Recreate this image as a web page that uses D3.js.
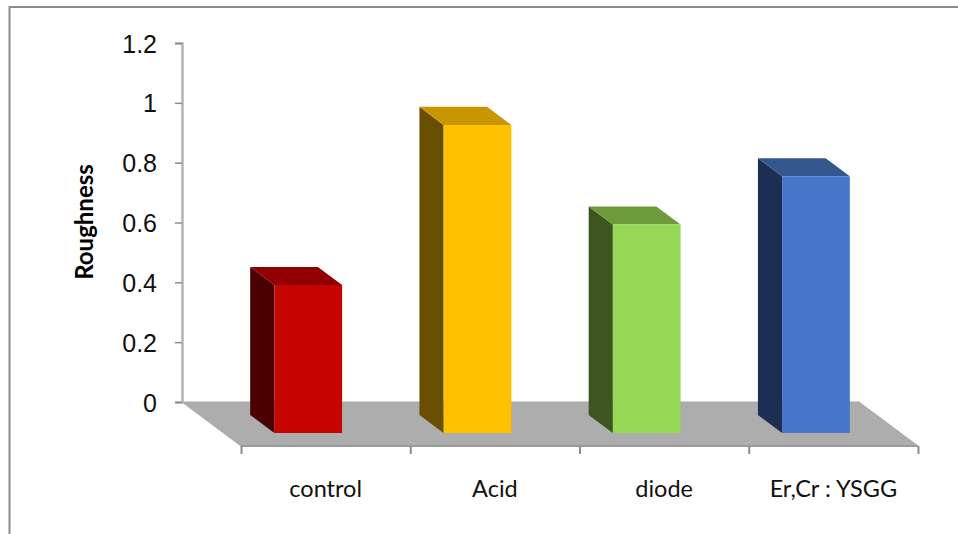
<!DOCTYPE html>
<html>
<head>
<meta charset="utf-8">
<script src="https://cdn.jsdelivr.net/npm/d3@7"></script>
<style>
  html, body { margin: 0; padding: 0; background: #fff; }
  svg { display: block; }
  .y-axis text { font-family: "Liberation Sans", Arial, sans-serif; font-size: 25px; fill: #111; }
  .cat-label { font-family: Lato, sans-serif; font-size: 23.5px; fill: #111; text-anchor: middle; }
  .y-title { font-family: Lato, sans-serif; font-size: 24px; font-weight: bold; fill: #000; text-anchor: middle; }
</style>
</head>
<body>
<div id="chart"></div>
<script>
var categories = ["control", "Acid", "diode", "Er,Cr : YSGG"];
var values = [0.495, 1.03, 0.697, 0.858];
var yTicks = [0, 0.2, 0.4, 0.6, 0.8, 1, 1.2];
var frontColors = ["#c60500", "#ffc000", "#97d756", "#4775ca"];
var topColors = ["#900000", "#c79600", "#6e9c3c", "#34568f"];
var sideColors = ["#4a0000", "#674e00", "#3e551f", "#1c2f52"];

var width = 958,
  height = 534;

// floor runs from the back wall to the front edge, this is the shift for full depth
var depthX = 59,
  depthY = 44;
var barBack = 0.295,
  barFront = 0.705;

var svg = d3
  .select("#chart")
  .append("svg")
  .attr("width", width)
  .attr("height", height);

var x = d3
  .scaleBand()
  .domain(categories)
  .range([182, 859])
  .paddingInner(0.6)
  .paddingOuter(0.3);

var y = d3.scaleLinear().domain([0, 1.2]).range([402, 43]);

// outer chart frame, only top and left are visible
svg
  .append("path")
  .attr("d", "M" + width + ",7H9.5V" + height)
  .attr("fill", "none")
  .attr("stroke", "#8c8c8c")
  .attr("stroke-width", 2);

// floor
var floorLeft = x.range()[0],
  floorRight = x.range()[1];
svg
  .append("path")
  .attr(
    "d",
    d3.line()([
      [floorLeft, y(0)],
      [floorRight, y(0)],
      [floorRight + depthX, y(0) + depthY],
      [floorLeft + depthX, y(0) + depthY]
    ]) + "Z"
  )
  .attr("fill", "#adadad")
  .attr("stroke", "#a8a8a8")
  .attr("stroke-width", 1);

var yAxis = d3
  .axisLeft(y)
  .tickValues(yTicks)
  .tickFormat(function(d) {
    return d;
  })
  .tickSize(7)
  .tickPadding(18);

var yAxisG = svg
  .append("g")
  .attr("class", "y-axis")
  .attr("transform", "translate(182,0)")
  .call(yAxis);

yAxisG.select(".domain").attr("stroke", "#b4b4b4").attr("stroke-width", 2.5);
yAxisG.selectAll(".tick line").attr("stroke", "#8c8c8c").attr("stroke-width", 1.5);
yAxisG.selectAll(".tick text").attr("dy", "0.36em");

// front edge of the floor with its category ticks
var xFront = d3
  .scaleLinear()
  .domain([0, categories.length])
  .range([floorLeft + depthX, floorRight + depthX]);

var xAxis = d3
  .axisBottom(xFront)
  .ticks(categories.length)
  .tickFormat("")
  .tickSize(8);

var xAxisG = svg
  .append("g")
  .attr("class", "x-axis")
  .attr("transform", "translate(0," + (y(0) + depthY) + ")")
  .call(xAxis);

xAxisG
  .select(".domain")
  .attr("d", "M" + xFront.range()[0] + ",0H" + xFront.range()[1])
  .attr("stroke", "#9a9a9a")
  .attr("stroke-width", 2);
xAxisG.selectAll(".tick line").attr("stroke", "#8c8c8c").attr("stroke-width", 2);

// project a point (px on the wall, value, depth 0..1) onto the page
function pt(px, v, z) {
  return [px + depthX * z, y(v) + depthY * z];
}

var bars = svg
  .selectAll(".bar")
  .data(categories)
  .enter()
  .append("g")
  .attr("class", "bar");

// side face
bars
  .append("path")
  .attr("fill", function(d, i) {
    return sideColors[i];
  })
  .attr("d", function(d, i) {
    var l = x(d);
    return d3.line()([
      pt(l, 0, barBack),
      pt(l, 0, barFront),
      pt(l, values[i], barFront),
      pt(l, values[i], barBack)
    ]) + "Z";
  });

// top face
bars
  .append("path")
  .attr("fill", function(d, i) {
    return topColors[i];
  })
  .attr("d", function(d, i) {
    var l = x(d),
      r = l + x.bandwidth();
    return d3.line()([
      pt(l, values[i], barBack),
      pt(r, values[i], barBack),
      pt(r, values[i], barFront),
      pt(l, values[i], barFront)
    ]) + "Z";
  });

// front face
bars
  .append("path")
  .attr("fill", function(d, i) {
    return frontColors[i];
  })
  .attr("d", function(d, i) {
    var l = x(d),
      r = l + x.bandwidth();
    return d3.line()([
      pt(l, 0, barFront),
      pt(r, 0, barFront),
      pt(r, values[i], barFront),
      pt(l, values[i], barFront)
    ]) + "Z";
  });

// category labels
svg
  .selectAll(".cat-label")
  .data(categories)
  .enter()
  .append("text")
  .attr("class", "cat-label")
  .attr("x", function(d, i) {
    return xFront(i + 0.5);
  })
  .attr("y", 497)
  .text(function(d) {
    return d;
  });

// axis title
svg
  .append("text")
  .attr("class", "y-title")
  .attr("transform", "translate(93,222) rotate(-90)")
  .text("Roughness");
</script>
</body>
</html>
